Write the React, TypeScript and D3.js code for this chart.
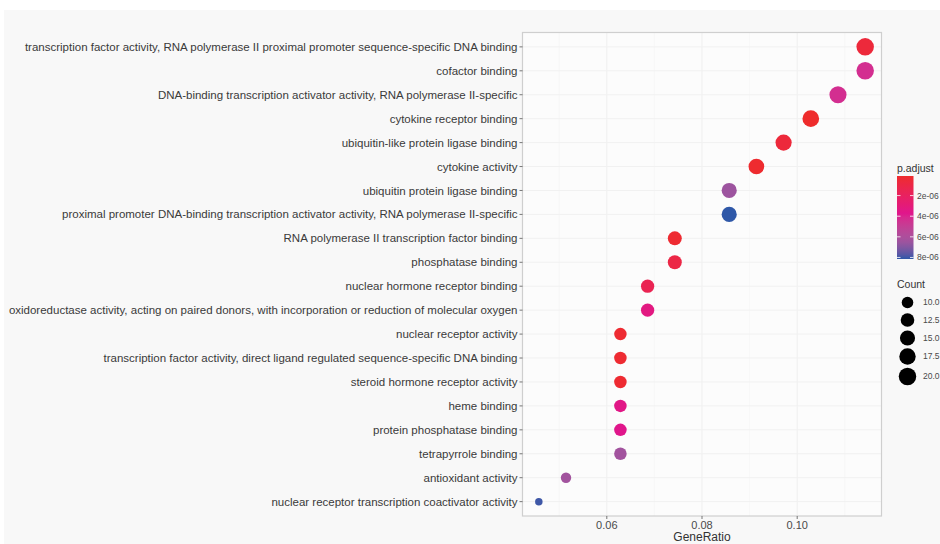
import React from "react";
import * as d3 from "d3";

const terms = [
  "transcription factor activity, RNA polymerase II proximal promoter sequence-specific DNA binding",
  "cofactor binding",
  "DNA-binding transcription activator activity, RNA polymerase II-specific",
  "cytokine receptor binding",
  "ubiquitin-like protein ligase binding",
  "cytokine activity",
  "ubiquitin protein ligase binding",
  "proximal promoter DNA-binding transcription activator activity, RNA polymerase II-specific",
  "RNA polymerase II transcription factor binding",
  "phosphatase binding",
  "nuclear hormone receptor binding",
  "oxidoreductase activity, acting on paired donors, with incorporation or reduction of molecular oxygen",
  "nuclear receptor activity",
  "transcription factor activity, direct ligand regulated sequence-specific DNA binding",
  "steroid hormone receptor activity",
  "heme binding",
  "protein phosphatase binding",
  "tetrapyrrole binding",
  "antioxidant activity",
  "nuclear receptor transcription coactivator activity",
];
const counts = [20, 20, 19, 18, 17, 16, 15, 15, 13, 13, 12, 12, 11, 11, 11, 11, 11, 11, 9, 8];
const totalGenes = 175;
const pAdjust = [
  0.6e-6, 4.3e-6, 4.3e-6, 0.1e-6, 0.6e-6, 0.2e-6, 6.5e-6, 8.15e-6, 0.3e-6, 1.0e-6,
  1.5e-6, 3.3e-6, 0.3e-6, 0.3e-6, 0.3e-6, 3.5e-6, 3.7e-6, 6.4e-6, 6.4e-6, 8.0e-6,
];
const xTicks = [0.06, 0.08, 0.1];
const xMinor = [0.05, 0.07, 0.09, 0.11];
const pTicks = [2e-6, 4e-6, 6e-6, 8e-6];
const countLegend = [10, 12.5, 15, 17.5, 20];

const W = 940;
const H = 544;
const P = { left: 522.5, right: 881.5, top: 32.5, bottom: 516 };

export default function App() {
  const ratios = counts.map((c) => c / totalGenes);
  const ext = d3.extent(ratios) as [number, number];
  const span = ext[1] - ext[0];
  const x = d3.scaleLinear().domain([ext[0] - span * 0.05, ext[1] + span * 0.05]).range([P.left, P.right]);
  const y = d3.scalePoint<string>().domain(terms).range([P.top, P.bottom]).padding(0.6);
  const pExt = d3.extent(pAdjust) as [number, number];
  const color = d3
    .scaleLinear<string>()
    .domain([pExt[0], pExt[0] + (pExt[1] - pExt[0]) * 0.45, pExt[0] + (pExt[1] - pExt[0]) * 0.78, pExt[1]])
    .range(["#EE2C2C", "#E0168C", "#A3539E", "#2F58A8"])
    .interpolate(d3.interpolateLab);
  const cExt = d3.extent(counts) as [number, number];
  const r = (c: number) => 3.75 + 5 * Math.sqrt((c - cExt[0]) / (cExt[1] - cExt[0]));

  const barTop = 176;
  const barBot = 259;
  const barY = d3.scaleLinear().domain(pExt).range([barTop, barBot]);
  const gradStops = d3.range(0, 1.0001, 0.05);

  const font = "'Liberation Sans', Arial, sans-serif";
  return (
    <svg width={W} height={H} style={{ position: "absolute", left: 0, top: 0 }} fontFamily={font}>
      <defs>
        <linearGradient id="pgrad" x1="0" y1="0" x2="0" y2="1">
          {gradStops.map((t) => (
            <stop key={t} offset={t} stopColor={color(pExt[0] + t * (pExt[1] - pExt[0]))} />
          ))}
        </linearGradient>
      </defs>
      <rect x={0} y={0} width={W} height={H} fill="#ffffff" />
      <rect x={4} y={10} width={W - 4} height={H - 10} fill="#f8f8f8" />
      <rect x={P.left} y={P.top} width={P.right - P.left} height={P.bottom - P.top} fill="#fcfcfc" />
      {xMinor.map((v) => (
        <line key={"m" + v} x1={x(v)} x2={x(v)} y1={P.top} y2={P.bottom} stroke="#f4f4f4" strokeWidth={0.6} />
      ))}
      {xTicks.map((v) => (
        <line key={"g" + v} x1={x(v)} x2={x(v)} y1={P.top} y2={P.bottom} stroke="#efefef" strokeWidth={1} />
      ))}
      {terms.map((t) => (
        <line key={"h" + t} x1={P.left} x2={P.right} y1={y(t)} y2={y(t)} stroke="#f1f1f1" strokeWidth={1} />
      ))}
      <rect x={P.left} y={P.top} width={P.right - P.left} height={P.bottom - P.top} fill="none" stroke="#cfcfcf" strokeWidth={1.2} />
      {terms.map((t, i) => (
        <circle key={"c" + t} cx={x(ratios[i])} cy={y(t)} r={r(counts[i])} fill={color(pAdjust[i])} />
      ))}
      {terms.map((t) => (
        <g key={"l" + t}>
          <line x1={P.left - 3} x2={P.left} y1={y(t)} y2={y(t)} stroke="#555" strokeWidth={0.8} />
          <text x={P.left - 5} y={y(t)} dy="0.35em" textAnchor="end" fontSize={11.5} fill="#3a3a3a">
            {t}
          </text>
        </g>
      ))}
      {xTicks.map((v) => (
        <g key={"x" + v}>
          <line x1={x(v)} x2={x(v)} y1={P.bottom} y2={P.bottom + 3} stroke="#555" strokeWidth={0.8} />
          <text x={x(v)} y={P.bottom + 13} textAnchor="middle" fontSize={11} fill="#4a4a4a">
            {d3.format(".2f")(v)}
          </text>
        </g>
      ))}
      <text x={(P.left + P.right) / 2} y={541} textAnchor="middle" fontSize={12} fill="#333">
        GeneRatio
      </text>

      <text x={897} y={172} fontSize={10.5} fill="#333">
        p.adjust
      </text>
      <rect x={897} y={barTop} width={16.5} height={barBot - barTop} fill="url(#pgrad)" />
      {pTicks.map((v) => (
        <g key={"p" + v}>
          <line x1={897} x2={900.5} y1={barY(v)} y2={barY(v)} stroke="#fff" strokeWidth={0.8} />
          <line x1={910} x2={913.5} y1={barY(v)} y2={barY(v)} stroke="#fff" strokeWidth={0.8} />
          <text x={917} y={barY(v)} dy="0.35em" fontSize={8.5} fill="#4a4a4a">
            {d3.format(".0e")(v).replace("e-6", "e-06")}
          </text>
        </g>
      ))}

      <text x={897} y={288} fontSize={10.5} fill="#333">
        Count
      </text>
      {countLegend.map((c, i) => {
        const cy = [302.5, 320, 338, 356.5, 376.5][i];
        return (
          <g key={"cl" + c}>
            <circle cx={907.5} cy={cy} r={r(c)} fill="#000" />
            <text x={923} y={cy} dy="0.35em" fontSize={8.5} fill="#4a4a4a">
              {d3.format(".1f")(c)}
            </text>
          </g>
        );
      })}
    </svg>
  );
}
